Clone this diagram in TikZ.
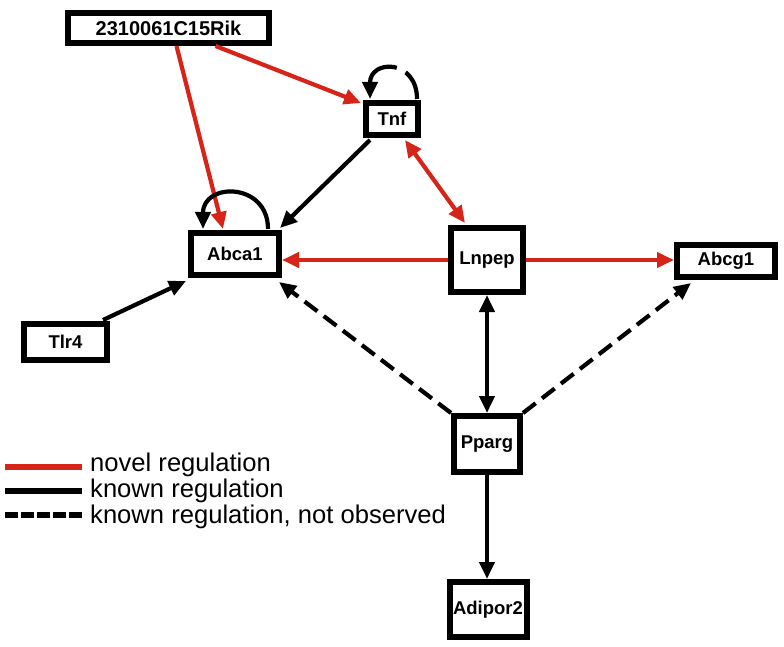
\documentclass[tikz,border=0pt]{standalone}
\usepackage{fontspec}
\setmainfont{Liberation Sans}
\usetikzlibrary{arrows.meta,calc}
\definecolor{novel}{RGB}{214,36,24}
\tikzset{
  gene/.style={draw=black, line width=6pt, fill=white, inner sep=0pt,
    font=\bfseries\fontsize{18.5}{20}\selectfont},
  tip/.style={-{Triangle[length=17pt,width=15pt]}},
  both/.style={{Triangle[length=17pt,width=15pt]}-{Triangle[length=17pt,width=15pt]}},
  novelreg/.style={draw=novel, line width=4.2pt, tip, novel},
  knownreg/.style={draw=black, line width=4.2pt, tip},
  unobs/.style={draw=black, line width=4.2pt, tip, dash pattern=on 16pt off 8pt},
  legline/.style={line width=6.5pt},
  legtext/.style={anchor=west, inner sep=0pt, font=\fontsize{25.6}{28}\selectfont}
}
\begin{document}
\begin{tikzpicture}[x=1pt,y=-1pt]
\useasboundingbox (0,0) rectangle (784,647);
% nodes
\node[gene, minimum width=201pt, minimum height=30pt, font=\bfseries\fontsize{20}{22}\selectfont] (rik) at (168.5,28) {2310061C15Rik};
\node[gene, minimum width=52pt, minimum height=32pt] (tnf) at (392,119) {Tnf};
\node[gene, minimum width=88pt, minimum height=42pt] (abca1) at (235,254) {Abca1};
\node[gene, minimum width=72pt, minimum height=64pt] (lnpep) at (487,260) {Lnpep};
\node[gene, minimum width=98pt, minimum height=32pt] (abcg1) at (726,261) {Abcg1};
\node[gene, minimum width=83pt, minimum height=36pt] (tlr4) at (65.5,342) {Tlr4};
\node[gene, minimum width=66pt, minimum height=56pt] (pparg) at (487,444) {Pparg};
\node[gene, minimum width=77pt, minimum height=55pt] (adipor2) at (488,609.5) {Adipor2};
% coordinates
\coordinate (rikA) at ($(rik.south)+(8,0)$);
\coordinate (rikB) at ($(rik.south)+(47,0)$);
\coordinate (abcaTop) at ($(abca1.north)+(-12,-1)$);
\coordinate (abcaNE) at ($(abca1.north east)+(-2,-2)$);
\coordinate (abcaSW) at ($(abca1.south west)+(-2,3)$);
\coordinate (abcaSE) at ($(abca1.south east)+(-3,4)$);
\coordinate (tnfW) at ($(tnf.north west)+(-2,3)$);
\coordinate (tnfSW) at ($(tnf.south west)+(7,2)$);
\coordinate (tnfSE) at ($(tnf.south east)+(-16,2)$);
\coordinate (lnpepNW) at ($(lnpep.north west)+(17,-2)$);
\coordinate (tlrNE) at ($(tlr4.north east)+(-7,-1)$);
\coordinate (abcgSW) at ($(abcg1.south west)+(17,3)$);
% red edges
\draw[novelreg] (rikA) -- (abcaTop);
\draw[novelreg] (rikB) -- (tnfW);
\draw[novelreg, both] (tnfSE) -- (lnpepNW);
\draw[novelreg] (lnpep.west) -- (abca1.east |- lnpep.west);
\draw[novelreg] (lnpep.east) -- (abcg1.west |- lnpep.east);
% black edges
\draw[knownreg] (tnfSW) -- (abcaNE);
\draw[knownreg] (tlrNE) -- (abcaSW);
\draw[knownreg, both] (lnpep.south) -- (lnpep.south |- pparg.north);
\draw[knownreg] (pparg.south) -- (pparg.south |- adipor2.north);
\draw[knownreg] ($(abca1.north)+(33,-1)$) .. controls ($(abca1.north)+(33,-48)$) and ($(abca1.north)+(-32,-48)$) .. ($(abca1.north)+(-32,-1)$);
% dashed
\draw[unobs] (pparg.north west) -- (abcaSE);
\draw[unobs] (pparg.north east) -- (abcgSW);
\draw[unobs, dash pattern=on 30pt off 10pt on 40pt] ($(tnf.north)+(25,-1)$) .. controls ($(tnf.north)+(25,-41)$) and ($(tnf.north)+(-22,-41)$) .. ($(tnf.north)+(-22,-1)$);
% legend
\coordinate (l1a) at (5,467); \coordinate (l1b) at (82,467);
\coordinate (l2a) at (5,491); \coordinate (l2b) at (82,491);
\coordinate (l3a) at (5,515); \coordinate (l3b) at (82,515);
\draw[legline, novel] (l1a) -- (l1b);
\draw[legline, black] (l2a) -- (l2b);
\draw[legline, black, dash pattern=on 13pt off 3pt] (l3a) -- (l3b);
\node[legtext] (t1) at (90,465) {novel regulation};
\node[legtext] (t2) at (90,491) {known regulation};
\node[legtext] (t3) at (90,517) {known regulation, not observed};
\end{tikzpicture}
\end{document}
